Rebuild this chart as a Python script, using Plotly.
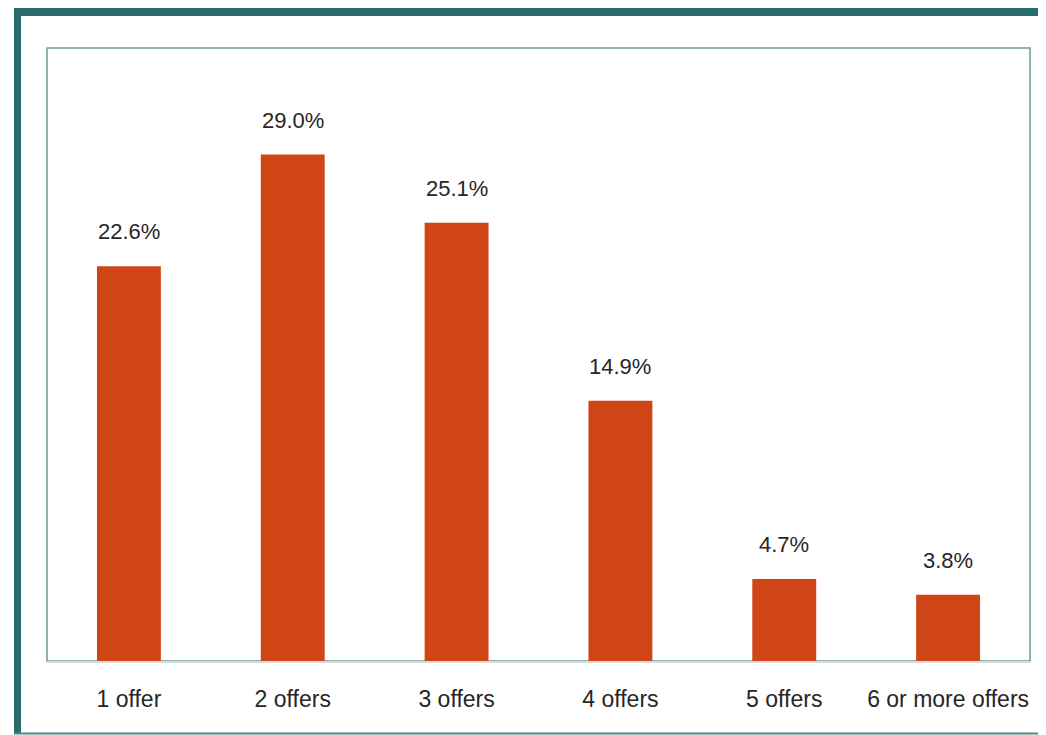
import plotly.graph_objects as go

categories = ["1 offer", "2 offers", "3 offers", "4 offers", "5 offers", "6 or more offers"]
shares = [22.6, 29.0, 25.1, 14.9, 4.7, 3.8]
labels = [f"{v:.1f}%" for v in shares]

BAR = "#d04515"
TEAL = "#2a6b6b"
TEXT = "#262626"
FONT = "Liberation Sans Narrow, Arial Narrow, sans-serif"

# page body adds 8px margin, so the figure is drawn 8px smaller / shifted
OFF = 8
W, H = 1046 - OFF, 735 - OFF
L, R, T, B = 47 - OFF, 16, 48 - OFF, 74
pw, ph = W - L - R, H - T - B


def px_x(p):
    return (p - OFF - L) / pw


def px_y(p):
    return (H - B - (p - OFF)) / ph


fig = go.Figure(go.Bar(
    x=categories, y=shares, marker=dict(color=BAR, line=dict(width=0)),
    hoverinfo="x+y",
))

for c, v, t in zip(categories, shares, labels):
    fig.add_annotation(x=c, y=v, text=t, showarrow=False, yanchor="bottom",
                       yshift=20, font=dict(color=TEXT, size=22, family=FONT))

# outer frame
fig.add_shape(type="rect", xref="paper", yref="paper",
              x0=px_x(14), x1=px_x(21), y0=px_y(734), y1=px_y(8),
              fillcolor=TEAL, line_width=0, layer="above")
fig.add_shape(type="rect", xref="paper", yref="paper",
              x0=px_x(14), x1=px_x(1060), y0=px_y(16), y1=px_y(8),
              fillcolor=TEAL, line_width=0, layer="above")
fig.add_shape(type="line", xref="paper", yref="paper",
              x0=px_x(14), x1=px_x(1060), y0=px_y(733.5), y1=px_y(733.5),
              line=dict(color="#4f8a8a", width=2), layer="above")
# plot area border
fig.add_shape(type="rect", xref="paper", yref="paper", x0=0, x1=1, y0=0, y1=1,
              line=dict(color="#6c9c9c", width=1.5), layer="below")

fig.update_layout(
    width=W, height=H, margin=dict(l=L, r=R, t=T, b=B),
    paper_bgcolor="white", plot_bgcolor="white",
    bargap=0.61, showlegend=False,
    font=dict(family=FONT, color=TEXT, size=22),
)
fig.update_xaxes(showline=True, linecolor="#d9d9d9", linewidth=2, ticks="",
                 tickfont=dict(size=23, color=TEXT, family=FONT), ticklabelstandoff=16)
fig.update_yaxes(range=[0, 35.1], visible=False, showgrid=False)

fig.write_html("out.html")
